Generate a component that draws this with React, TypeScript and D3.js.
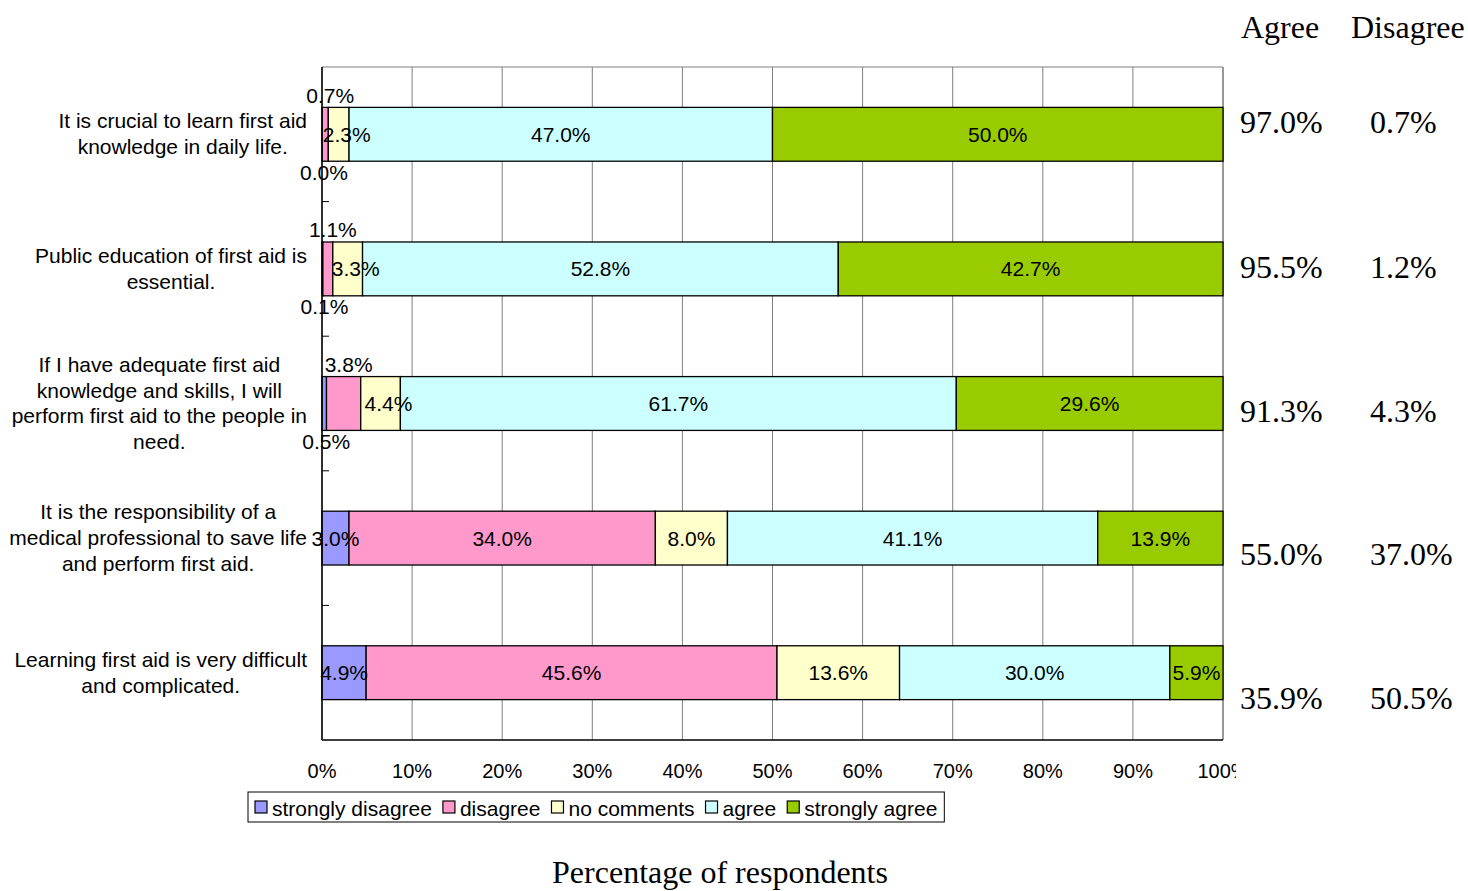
import React from "react";
import * as d3 from "d3";

const categories: string[][] = [
  ["It is crucial to learn first aid", "knowledge in daily life."],
  ["Public education of first aid is", "essential."],
  ["If I have adequate first aid", "knowledge and skills, I will", "perform first aid to the people in", "need."],
  ["It is the responsibility of a", "medical professional to save life", "and perform first aid."],
  ["Learning first aid is very difficult", "and complicated."],
];

const seriesNames = ["strongly disagree", "disagree", "no comments", "agree", "strongly agree"];
const seriesColors = ["#9999FF", "#FF99CC", "#FFFFCC", "#CCFFFF", "#99CC00"];

const stronglyDisagree = [0.0, 0.1, 0.5, 3.0, 4.9];
const disagree = [0.7, 1.1, 3.8, 34.0, 45.6];
const noComments = [2.3, 3.3, 4.4, 8.0, 13.6];
const agree = [47.0, 52.8, 61.7, 41.1, 30.0];
const stronglyAgree = [50.0, 42.7, 29.6, 13.9, 5.9];

const agreeTotals = ["97.0%", "95.5%", "91.3%", "55.0%", "35.9%"];
const disagreeTotals = ["0.7%", "1.2%", "4.3%", "37.0%", "50.5%"];
const totalsOffsets = [-12, -2, 7, 16, 25];

const xTicks = [0, 10, 20, 30, 40, 50, 60, 70, 80, 90, 100];

const SANS = "'Liberation Sans', Arial, sans-serif";
const SERIF = "'Liberation Serif', 'Times New Roman', serif";

let ctx: CanvasRenderingContext2D | null = null;
function measure(text: string, font: string): number {
  if (!ctx) {
    const c = document.createElement("canvas");
    ctx = c.getContext("2d");
  }
  if (!ctx) return text.length * 10;
  ctx.font = font;
  return ctx.measureText(text).width;
}

export default function App() {
  const W = 1468, H = 891;
  const left = 322, right = 1223, top = 67, bottom = 740;
  const x = d3.scaleLinear().domain([0, 100]).range([left, right]);
  const y = d3
    .scaleBand<number>()
    .domain(d3.range(categories.length))
    .range([top, bottom])
    .paddingInner(0.6)
    .paddingOuter(0.3);
  const step = y.step();
  const bw = y.bandwidth();

  const table = categories.map((_, i) => ({
    sd: stronglyDisagree[i],
    d: disagree[i],
    nc: noComments[i],
    a: agree[i],
    sa: stronglyAgree[i],
  }));
  const keys = ["sd", "d", "nc", "a", "sa"];
  const stacked = d3.stack<any>().keys(keys)(table);

  const fs = 21;
  const tickFs = 20;
  const serifFs = 32;
  const sansFont = `${fs}px ${SANS}`;

  // legend layout
  const legX = 248, legY = 792, legH = 30;
  let cur = legX + 7;
  const legItems = seriesNames.map((name, i) => {
    const mx = cur;
    const tw = measure(name, sansFont);
    cur = mx + 17 + tw + 11;
    return { name, mx, color: seriesColors[i] };
  });
  const legW = cur - 11 + 7 - legX;

  const labelRight = 307;
  const lineH = 25.7;

  return (
    <svg width={W} height={H} style={{ position: "absolute", left: 0, top: 0, background: "#fff" }}>
      <defs>
        <clipPath id="tickclip">
          <rect x={0} y={740} width={1236} height={60} />
        </clipPath>
      </defs>
      {/* gridlines */}
      {xTicks.map((t) => (
        <line key={"g" + t} x1={x(t)} x2={x(t)} y1={top} y2={bottom} stroke="#7f7f7f" strokeWidth={1} />
      ))}
      <line x1={left} x2={right} y1={top} y2={top} stroke="#7f7f7f" strokeWidth={1.2} />
      <line x1={right} x2={right} y1={top} y2={bottom} stroke="#7f7f7f" strokeWidth={1.2} />

      {/* bars */}
      {stacked.map((s, si) =>
        s.map((seg, i) => {
          const w = x(seg[1]) - x(seg[0]);
          if (w <= 0) return null;
          return (
            <rect
              key={`b${si}-${i}`}
              x={x(seg[0])}
              y={y(i)!}
              width={w}
              height={bw}
              fill={seriesColors[si]}
              stroke="#000"
              strokeWidth={1.3}
            />
          );
        })
      )}

      {/* axes */}
      <line x1={left} x2={left} y1={top} y2={bottom} stroke="#000" strokeWidth={1.5} />
      <line x1={left} x2={right} y1={bottom} y2={bottom} stroke="#000" strokeWidth={1.5} />
      {d3.range(1, categories.length).map((k) => (
        <line key={"yt" + k} x1={left} x2={left + 7} y1={top + k * step} y2={top + k * step} stroke="#000" strokeWidth={1} />
      ))}

      {/* bar labels */}
      {stacked.map((s, si) =>
        s.map((seg, i) => {
          const v = seg[1] - seg[0];
          const cx = (x(seg[0]) + x(seg[1])) / 2;
          const cy = y(i)! + bw / 2;
          const tiny = disagree[i] < 5;
          let lx = cx, ly = cy;
          if (tiny && si === 0) {
            ly = y(i)! + bw + 11;
            lx = cx + 2;
          } else if (tiny && si === 1) {
            ly = y(i)! - 12;
            lx = cx + 5;
          } else if (tiny && si === 2) {
            lx = cx + 8;
          }
          return (
            <text
              key={`l${si}-${i}`}
              x={lx}
              y={ly}
              textAnchor="middle"
              dominantBaseline="central"
              fontFamily={SANS}
              fontSize={fs}
              fill="#000"
            >
              {v.toFixed(1)}%
            </text>
          );
        })
      )}

      {/* category labels */}
      {categories.map((lines, i) => {
        const maxW = d3.max(lines, (l) => measure(l, sansFont)) || 0;
        const cx = labelRight - maxW / 2;
        const cy = y(i)! + bw / 2 - 1;
        const y0 = cy - ((lines.length - 1) * lineH) / 2;
        return (
          <text key={"c" + i} fontFamily={SANS} fontSize={fs} textAnchor="middle" dominantBaseline="central" fill="#000">
            {lines.map((l, j) => (
              <tspan key={j} x={cx} y={y0 + j * lineH}>
                {l}
              </tspan>
            ))}
          </text>
        );
      })}

      {/* x tick labels */}
      <g clipPath="url(#tickclip)">
        {xTicks.map((t) => (
          <text key={"xt" + t} x={x(t)} y={771} textAnchor="middle" dominantBaseline="central" fontFamily={SANS} fontSize={tickFs}>
            {t}%
          </text>
        ))}
      </g>

      {/* legend */}
      <rect x={legX} y={legY} width={legW} height={legH} fill="#fff" stroke="#000" strokeWidth={1} />
      {legItems.map((it) => (
        <g key={it.name}>
          <rect x={it.mx} y={legY + 9} width={12} height={12} fill={it.color} stroke="#000" strokeWidth={1.2} />
          <text x={it.mx + 17} y={legY + legH / 2 + 1} dominantBaseline="central" fontFamily={SANS} fontSize={fs}>
            {it.name}
          </text>
        </g>
      ))}

      {/* totals */}
      <text x={1241} y={27} dominantBaseline="central" fontFamily={SERIF} fontSize={serifFs}>Agree</text>
      <text x={1351} y={27} dominantBaseline="central" fontFamily={SERIF} fontSize={serifFs}>Disagree</text>
      {agreeTotals.map((t, i) => (
        <text key={"at" + i} x={1240} y={y(i)! + bw / 2 + totalsOffsets[i]} dominantBaseline="central" fontFamily={SERIF} fontSize={serifFs}>
          {t}
        </text>
      ))}
      {disagreeTotals.map((t, i) => (
        <text key={"dt" + i} x={1370} y={y(i)! + bw / 2 + totalsOffsets[i]} dominantBaseline="central" fontFamily={SERIF} fontSize={serifFs}>
          {t}
        </text>
      ))}

      <text x={720} y={872} textAnchor="middle" dominantBaseline="central" fontFamily={SERIF} fontSize={serifFs}>
        Percentage of respondents
      </text>
    </svg>
  );
}
